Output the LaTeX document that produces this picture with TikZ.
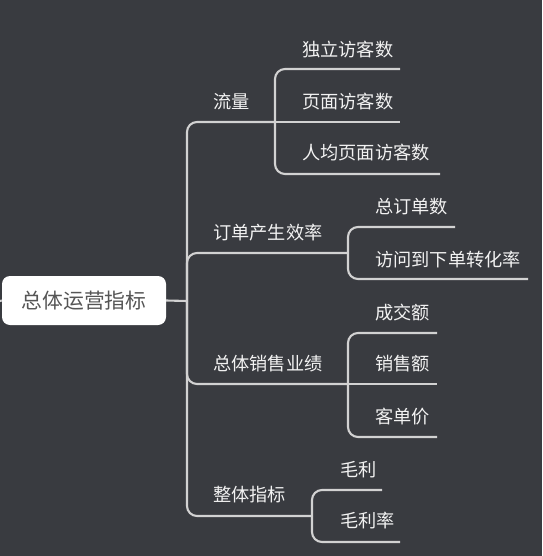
\documentclass[tikz,border=0pt]{standalone}
\usepackage{fontspec}
\newfontfamily\cjk{Noto Sans CJK SC}
\definecolor{bg}{HTML}{393B40}
\definecolor{ln}{HTML}{D2D2D2}
\definecolor{tx}{HTML}{F2F2F2}
\definecolor{rt}{HTML}{555555}
\begin{document}
\begin{tikzpicture}[x=1pt,y=-1pt,
  conn/.style={draw=ln,line width=2.1pt,rounded corners=10pt},
  lbl/.style={anchor=west,inner sep=0pt,text=tx,font=\cjk\fontsize{18.2}{20}\selectfont},
  rootbox/.style={fill=white,rounded corners=8pt,minimum width=164pt,minimum height=49pt,inner sep=0pt,text=rt,font=\cjk\fontsize{20.8}{24}\selectfont}]
\fill[bg] (0,0) rectangle (542,556);
\useasboundingbox (0,0) rectangle (542,556);
% root
\node[rootbox] (root) at (84,300.5) {总体运营指标};
\coordinate (in) at (0,301);
\coordinate (j) at (187,301);
\draw[conn] (in) -- (root.west);
\draw[conn] (root.east) -- (j);
% branch points
\coordinate (b1) at (275,122);
\coordinate (b2) at (348,253);
\coordinate (b3) at (348,384);
\coordinate (b4) at (312,516);
\draw[conn] (j) |- (b1);
\draw[conn] (j) |- (b2);
\draw[conn] (j) |- (b3);
\draw[conn] (j) |- (b4);
% leaf ends
\coordinate (e11) at (400,69);
\coordinate (e12) at (400,122);
\coordinate (e13) at (440,174);
\coordinate (e21) at (455,227);
\coordinate (e22) at (528,279);
\coordinate (e31) at (437,333);
\coordinate (e32) at (437,384);
\coordinate (e33) at (437,437);
\coordinate (e41) at (382,490);
\coordinate (e42) at (400,542);
\draw[conn] (b1) |- (e11);
\draw[conn] (b1) -- (e12);
\draw[conn] (b1) |- (e13);
\draw[conn] (b2) |- (e21);
\draw[conn] (b2) |- (e22);
\draw[conn] (b3) |- (e31);
\draw[conn] (b3) -- (e32);
\draw[conn] (b3) |- (e33);
\draw[conn] (b4) |- (e41);
\draw[conn] (b4) |- (e42);
% labels
\node[lbl] (n1) at (213,102) {流量};
\node[lbl] (n11) at (302,50) {独立访客数};
\node[lbl] (n12) at (302,102) {页面访客数};
\node[lbl] (n13) at (302,153) {人均页面访客数};
\node[lbl] (n2) at (213,233) {订单产生效率};
\node[lbl] (n21) at (375,207) {总订单数};
\node[lbl] (n22) at (375,260) {访问到下单转化率};
\node[lbl] (n3) at (213,364) {总体销售业绩};
\node[lbl] (n31) at (375,313) {成交额};
\node[lbl] (n32) at (375,364) {销售额};
\node[lbl] (n33) at (375,417) {客单价};
\node[lbl] (n4) at (213,495) {整体指标};
\node[lbl] (n41) at (340,470) {毛利};
\node[lbl] (n42) at (340,521) {毛利率};
\end{tikzpicture}
\end{document}
